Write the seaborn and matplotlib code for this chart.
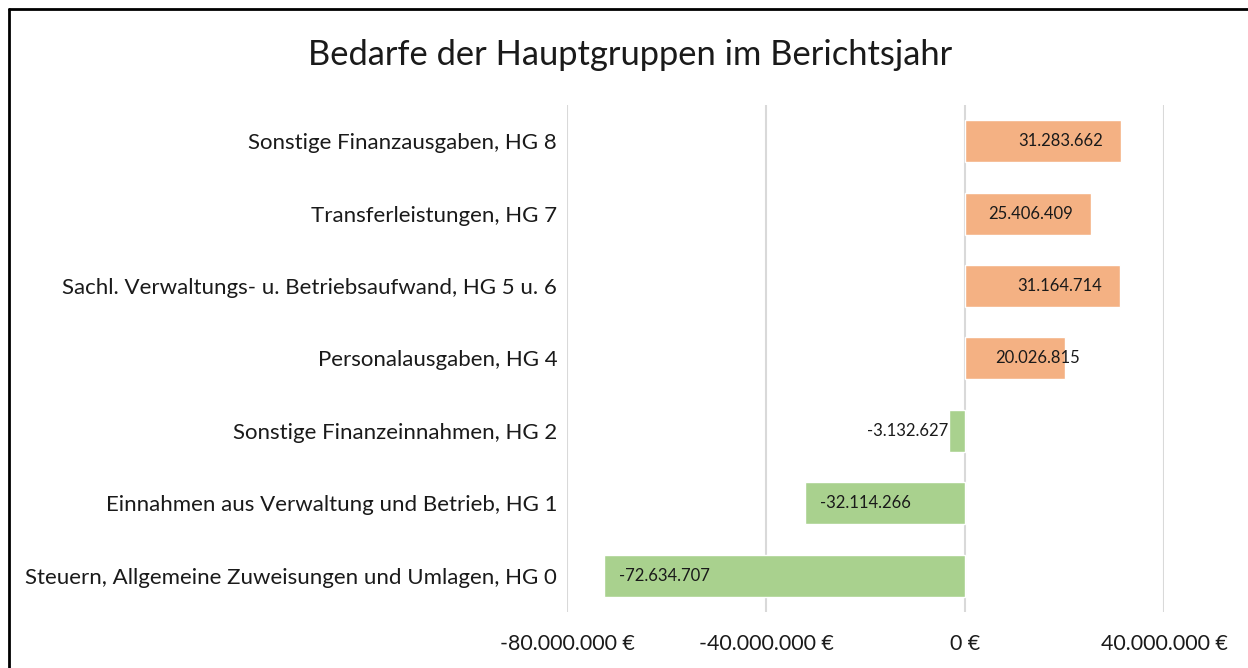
import matplotlib
matplotlib.use("Agg")
import matplotlib.pyplot as plt
import matplotlib.ticker as mticker
from matplotlib.lines import Line2D
import seaborn as sns
import pandas as pd

categories = [
    "Sonstige Finanzausgaben, HG 8",
    "Transferleistungen, HG 7",
    "Sachl. Verwaltungs- u. Betriebsaufwand, HG 5 u. 6",
    "Personalausgaben, HG 4",
    "Sonstige Finanzeinnahmen, HG 2",
    "Einnahmen aus Verwaltung und Betrieb, HG 1",
    "Steuern, Allgemeine Zuweisungen und Umlagen, HG 0",
]
values = [31283662, 25406409, 31164714, 20026815, -3132627, -32114266, -72634707]
x_ticks = [-80000000, -40000000, 0, 40000000]

df = pd.DataFrame({"Hauptgruppe": categories, "Bedarf": values})
df["Art"] = ["Ausgabe" if v > 0 else "Einnahme" for v in values]

sns.set_style("white")
plt.rcParams["font.family"] = ["Lato", "DejaVu Sans"]
plt.rcParams["text.color"] = "#1a1a1a"
plt.rcParams["xtick.color"] = "#1a1a1a"
plt.rcParams["ytick.color"] = "#1a1a1a"

def de_num(v):
    return f"{v:,.0f}".replace(",", ".")

fig = plt.figure(figsize=(12.48, 6.68), dpi=100)
ax = fig.add_axes([0.4543, 0.0838, 0.4784, 0.7592])

sns.barplot(data=df, y="Hauptgruppe", x="Bedarf", hue="Art", orient="h",
            palette={"Ausgabe": "#F4B183", "Einnahme": "#A9D18E"},
            saturation=1, dodge=False, width=0.58, legend=False, ax=ax, zorder=2)

ax.set_xlim(-80000000, 40000000)
ax.set_xticks(x_ticks)
ax.xaxis.set_major_formatter(mticker.FuncFormatter(lambda v, p: de_num(v) + " €"))
ax.grid(axis="x", color="#D9D9D9", linewidth=1.5, zorder=0)
ax.set_axisbelow(True)
for s in ax.spines.values():
    s.set_visible(False)
ax.set_xlabel("")
ax.set_ylabel("")
ax.tick_params(axis="y", length=0, pad=7, labelsize=16)
ax.tick_params(axis="x", length=0, pad=15.5, labelsize=15.4)

# data labels, Excel style
for i, v in enumerate(values):
    txt = de_num(v)
    if v > 0:
        if v > 25000000:
            ax.annotate(txt, (v, i), xytext=(-13, 0), textcoords="offset points",
                        ha="right", va="center", fontsize=12)
        else:
            ax.annotate(txt, (0, i), xytext=(22, 0), textcoords="offset points",
                        ha="left", va="center", fontsize=12)
    else:
        if v < -10000000:
            ax.annotate(txt, (v, i), xytext=(11, 0), textcoords="offset points",
                        ha="left", va="center", fontsize=12)
        else:
            ax.annotate(txt, (v, i), xytext=(-1, 0), textcoords="offset points",
                        ha="right", va="center", fontsize=12)

fig.text(0.505, 0.917, "Bedarfe der Hauptgruppen im Berichtsjahr",
         ha="center", va="center", fontsize=24.8)

# chart frame (top and left edge visible)
fig.add_artist(Line2D([9 / 1248, 1], [1 - 9 / 668, 1 - 9 / 668],
                      transform=fig.transFigure, color="black", linewidth=2))
fig.add_artist(Line2D([9 / 1248, 9 / 1248], [0, 1 - 9 / 668],
                      transform=fig.transFigure, color="black", linewidth=2))

fig.savefig("out.png", dpi=100)
